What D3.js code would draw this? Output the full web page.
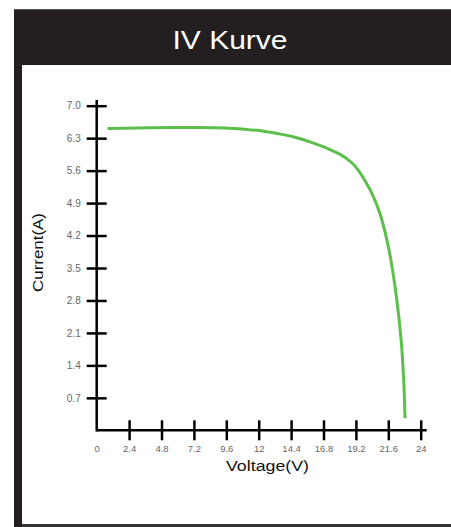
<!DOCTYPE html>
<html>
<head>
<meta charset="utf-8">
<script src="https://cdn.jsdelivr.net/npm/d3@7"></script>
<style>
  html, body { margin: 0; padding: 0; background: #fff; }
  svg { display: block; font-family: "Liberation Sans", Arial, sans-serif; }
</style>
</head>
<body>
<svg id="chart" width="451" height="527"></svg>
<script>
// IV curve
const voltage = [0.8, 3.0, 5.5, 7.3, 9.5, 11.0, 12.4, 13.4, 14.7, 15.9, 17.0, 18.1, 18.9, 19.4, 19.8, 20.4, 21.0, 21.7, 22.2, 22.55, 22.74, 22.84];
const current = [6.51, 6.52, 6.53, 6.53, 6.52, 6.49, 6.45, 6.40, 6.32, 6.21, 6.09, 5.94, 5.77, 5.60, 5.42, 5.10, 4.66, 3.82, 2.88, 1.95, 1.08, 0.26];
const xTicks = [0, 2.4, 4.8, 7.2, 9.6, 12, 14.4, 16.8, 19.2, 21.6, 24];
const yTicks = [0.7, 1.4, 2.1, 2.8, 3.5, 4.2, 4.9, 5.6, 6.3, 7.0];
const title = "IV Kurve";
const xTitle = "Voltage(V)";
const yTitle = "Current(A)";

const svg = d3.select("#chart");
const dark = "#231f20";

// frame + title bar
svg.append("rect").attr("x", 14).attr("y", 9).attr("width", 437).attr("height", 518).attr("fill", dark);
svg.append("line").attr("x1", 14).attr("x2", 451).attr("y1", 9.5).attr("y2", 9.5).attr("stroke", "#555").attr("stroke-width", 1);
svg.append("rect").attr("x", 22).attr("y", 65).attr("width", 429).attr("height", 459).attr("fill", "#fff");
svg.append("rect").attr("x", 22).attr("y", 524).attr("width", 429).attr("height", 3).attr("fill", "#333");

svg.append("text")
  .attr("x", 230).attr("y", 49)
  .attr("text-anchor", "middle")
  .attr("fill", "#fff")
  .attr("font-size", 25)
  .attr("textLength", 115)
  .attr("lengthAdjust", "spacingAndGlyphs")
  .text(title);

const x = d3.scaleLinear().domain([0, 24]).range([96.7, 420.7]);
const y = d3.scaleLinear().domain([0, 7]).range([430.3, 105.7]);

const g = svg.append("g");

// x axis
const xAxis = g.append("g")
  .attr("transform", `translate(0,${y(0)})`)
  .call(d3.axisBottom(x).tickValues(xTicks).tickSize(10).tickFormat(d => d === 0 ? "0" : d3.format("~g")(d)));
xAxis.select(".domain").remove();
xAxis.append("line").attr("x1", x(0)).attr("x2", 426.7).attr("stroke", "#000").attr("stroke-width", 2.5);
xAxis.selectAll(".tick line").attr("y1", -10).attr("y2", 10).attr("stroke", "#000").attr("stroke-width", 2.5)
  .filter(d => d === 0).remove();
xAxis.selectAll(".tick text").attr("y", 15).attr("dy", "0.71em").attr("fill", "#666").attr("font-size", 9.5);

// y axis
const yAxis = g.append("g")
  .attr("transform", `translate(${x(0)},0)`)
  .call(d3.axisLeft(y).tickValues(yTicks).tickSize(10).tickFormat(d3.format(".1f")));
yAxis.select(".domain").remove();
yAxis.append("line").attr("y1", 100).attr("y2", y(0) + 1.25).attr("stroke", "#000").attr("stroke-width", 2.5);
yAxis.selectAll(".tick line").attr("x1", -10).attr("x2", 10).attr("stroke", "#000").attr("stroke-width", 2.5);
yAxis.selectAll(".tick text").attr("x", -16).attr("fill", "#666").attr("font-size", 10);

// axis titles
svg.append("text")
  .attr("x", 267.5).attr("y", 471)
  .attr("text-anchor", "middle")
  .attr("font-size", 15.5)
  .attr("textLength", 83)
  .attr("lengthAdjust", "spacingAndGlyphs")
  .attr("fill", "#111")
  .text(xTitle);

svg.append("text")
  .attr("transform", "translate(42.5,252.5) rotate(-90)")
  .attr("text-anchor", "middle")
  .attr("font-size", 15.5)
  .attr("textLength", 79)
  .attr("lengthAdjust", "spacingAndGlyphs")
  .attr("fill", "#111")
  .text(yTitle);

// curve
const line = d3.line()
  .x((d, i) => x(voltage[i]))
  .y((d, i) => y(current[i]))
  .curve(d3.curveCatmullRom.alpha(0.5));

svg.append("path")
  .datum(voltage)
  .attr("d", line)
  .attr("fill", "none")
  .attr("stroke", "#5cbf4b")
  .attr("stroke-width", 3);
</script>
</body>
</html>
